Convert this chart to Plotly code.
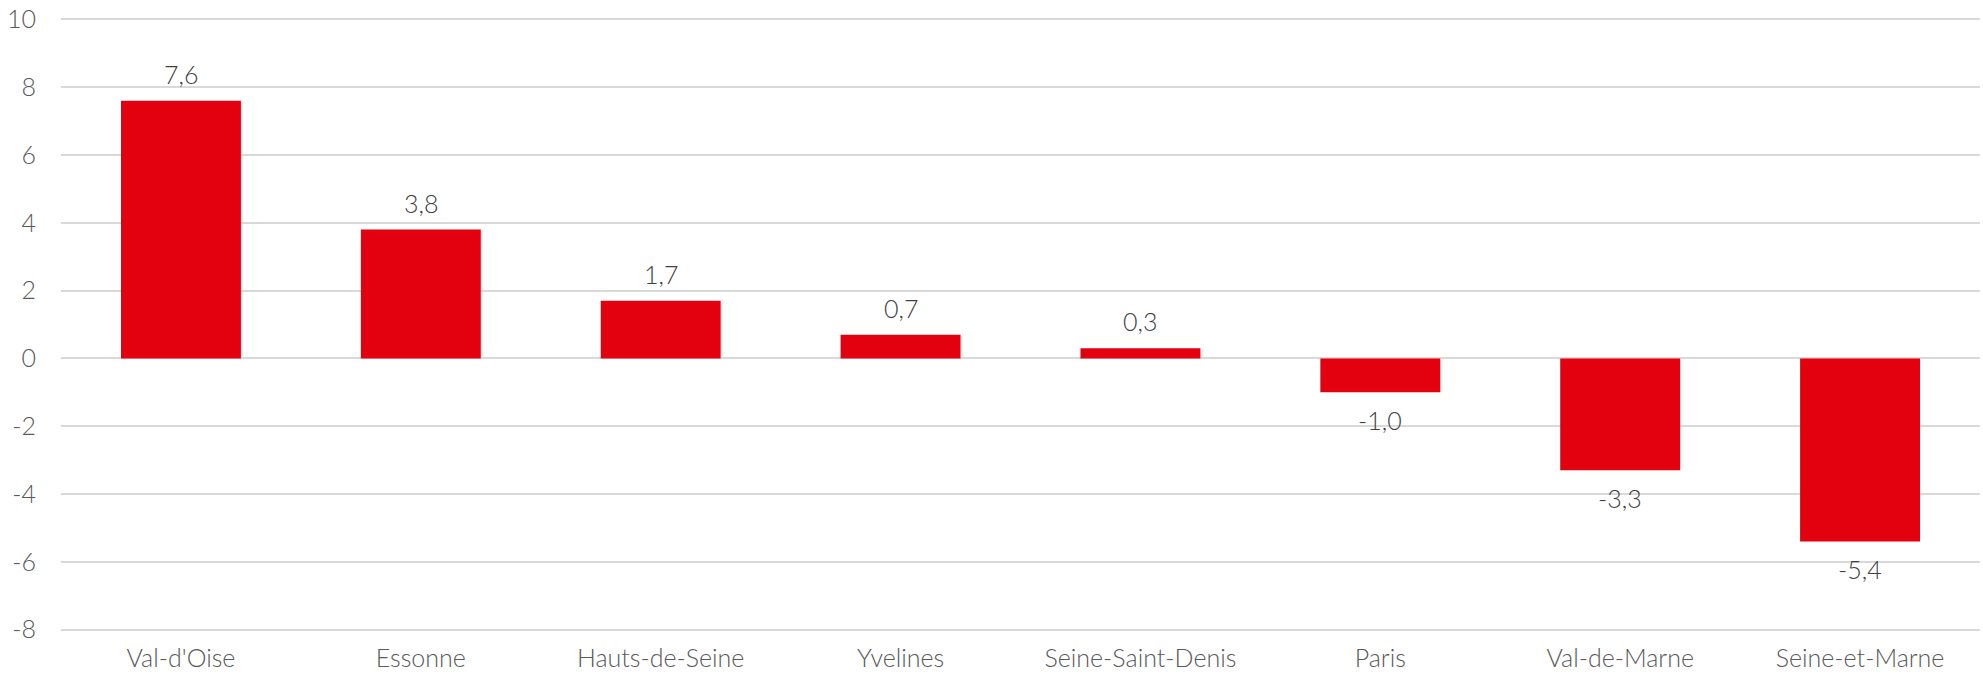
import plotly.graph_objects as go

categories = ["Val-d'Oise", "Essonne", "Hauts-de-Seine", "Yvelines",
              "Seine-Saint-Denis", "Paris", "Val-de-Marne", "Seine-et-Marne"]
values = [7.6, 3.8, 1.7, 0.7, 0.3, -1.0, -3.3, -5.4]
y_ticks = [-8, -6, -4, -2, 0, 2, 4, 6, 8, 10]

FONT = "Lato"
BAR = "#E3000F"
SIZE = 25

fig = go.Figure()
fig.add_trace(go.Bar(
    x=categories, y=values,
    marker=dict(color=BAR, line=dict(width=0)),
    width=0.5,
    hoverinfo="x+y",
))

for c, v in zip(categories, values):
    fig.add_annotation(
        x=c, y=v, text=f"{v:.1f}".replace(".", ","),
        showarrow=False, yanchor="middle",
        yshift=27 if v >= 0 else -28,
        font=dict(family=FONT, size=SIZE, color="#404040", weight=300),
    )

fig.update_layout(
    width=1983, height=674,
    margin=dict(l=61, r=3, t=18, b=43),
    paper_bgcolor="white", plot_bgcolor="white",
    showlegend=False,
    font=dict(family=FONT, size=SIZE, color="#595959"),
)
fig.update_xaxes(
    showgrid=False, showline=False, zeroline=False, automargin=False,
    tickfont=dict(family=FONT, size=SIZE, color="#595959", weight=300),
    ticklabelstandoff=10,
)
fig.update_yaxes(
    range=[-8.04, 10.04], tickvals=y_ticks,
    ticktext=[str(t) for t in y_ticks],
    showgrid=True, gridcolor="#D9D9D9", gridwidth=1.5,
    zeroline=True, zerolinecolor="#D9D9D9", zerolinewidth=1.5,
    showline=False, automargin=False,
    tickfont=dict(family=FONT, size=SIZE, color="#595959", weight=300),
    ticklabelstandoff=24,
)

fig.write_html("out.html",
               config={"displayModeBar": False},
               post_script="document.body.style.margin='0';document.body.style.overflow='hidden';")
